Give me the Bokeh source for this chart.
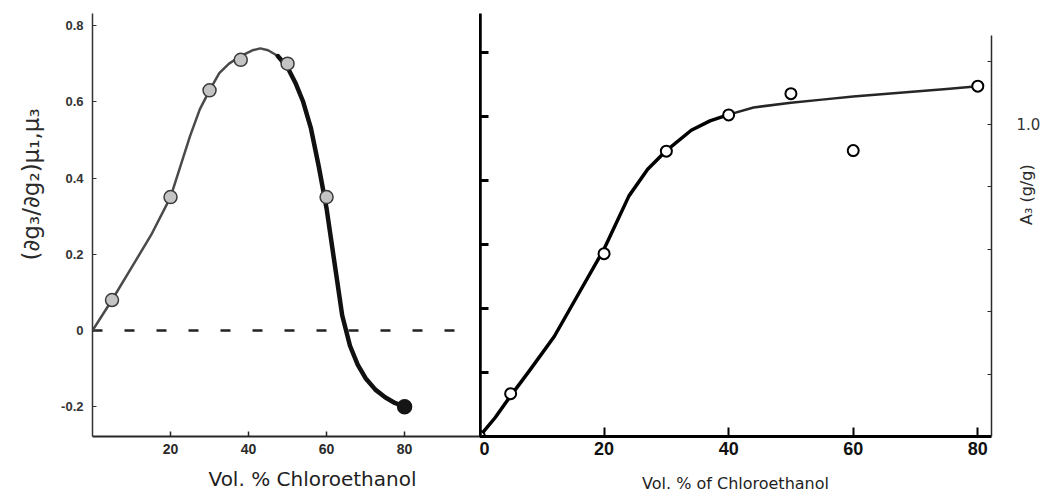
from math import pi

from bokeh.plotting import figure
from bokeh.layouts import row
from bokeh.models import Range1d, LinearAxis, FixedTicker, Title
from bokeh.embed import file_html
from bokeh.resources import INLINE

# ---- Left panel: preferential interaction parameter vs. vol. % chloroethanol ----
left_vol = [5, 20, 30, 38, 50, 60]
left_param = [0.08, 0.35, 0.63, 0.71, 0.70, 0.35]
left_end_vol = [80]
left_end_param = [-0.20]

# smooth curve drawn through the points (rising and falling branches)
left_rise_vol = [0, 2.5, 5, 10, 15, 20, 22.5, 25, 27.5, 30, 32.5, 35, 38, 41, 43, 45, 47.5]
left_rise_param = [0.0, 0.04, 0.08, 0.165, 0.25, 0.35, 0.43, 0.51, 0.58, 0.63, 0.675, 0.70,
                   0.72, 0.735, 0.74, 0.735, 0.72]
left_fall_vol = [47.5, 50, 52, 54, 56, 58, 60, 62, 64, 66, 68, 70, 72.5, 75, 77.5, 80]
left_fall_param = [0.72, 0.69, 0.65, 0.60, 0.53, 0.43, 0.32, 0.18, 0.04, -0.04, -0.09,
                   -0.125, -0.155, -0.175, -0.19, -0.20]

zero_line_vol = [0, 96]
zero_line_param = [0, 0]

left_x_ticks = [20, 40, 60, 80]
left_y_ticks = [-0.2, 0, 0.2, 0.4, 0.6, 0.8]
left_y_labels = ["-0.2", "0", "0.2", "0.4", "0.6", "0.8"]

# ---- Right panel: A3 vs. vol. % of chloroethanol ----
right_vol = [0, 5, 20, 30, 40, 50, 60, 80]
right_a3 = [0.0, 0.137, 0.585, 0.913, 1.029, 1.097, 0.915, 1.121]

right_rise_vol = [0, 2.5, 5, 8, 12, 16, 20, 24, 27, 30, 34, 37, 40]
right_rise_a3 = [0.0, 0.06, 0.13, 0.21, 0.32, 0.46, 0.60, 0.77, 0.855, 0.915, 0.98, 1.01, 1.03]
right_flat_vol = [40, 44, 50, 55, 60, 65, 70, 75, 80]
right_flat_a3 = [1.03, 1.053, 1.068, 1.078, 1.088, 1.096, 1.104, 1.112, 1.121]

right_x_ticks = [0, 20, 40, 60, 80]
right_inner_ticks = [1, 2, 3, 4, 5, 6]
right_y_label_ticks = [1.0]
right_y_minor_ticks = [0.2, 0.4, 0.6, 0.8, 1.2]

TICK_FONT = "Liberation Sans"
TITLE_FONT = "DejaVu Sans"

# ================= left figure =================
p1 = figure(width=479, height=499, output_backend="svg", toolbar_location=None,
            x_range=Range1d(0, 99.2), y_range=Range1d(-0.278, 0.8315),
            min_border_left=92, min_border_right=0, min_border_top=13, min_border_bottom=63)
p1.background_fill_color = "white"
p1.border_fill_color = "white"
p1.outline_line_color = None
p1.grid.visible = False

xa = p1.xaxis[0]
xa.ticker = FixedTicker(ticks=left_x_ticks)
xa.axis_line_color = "#262626"
xa.axis_line_width = 2
xa.major_tick_in = 5
xa.major_tick_out = 0
xa.major_tick_line_color = "#262626"
xa.major_tick_line_width = 1.5
xa.minor_tick_line_color = None
xa.major_label_text_font = TICK_FONT
xa.major_label_text_font_style = "bold"
xa.major_label_text_font_size = "14px"
xa.major_label_text_color = "#2a2a2a"
xa.major_label_standoff = 7

ya = p1.yaxis[0]
ya.ticker = FixedTicker(ticks=left_y_ticks)
ya.major_label_overrides = {t: s for t, s in zip(left_y_ticks, left_y_labels)}
ya.axis_line_color = "#333333"
ya.axis_line_width = 1.5
ya.major_tick_in = 4
ya.major_tick_out = 0
ya.major_tick_line_color = "#333333"
ya.minor_tick_line_color = None
ya.major_label_text_font = TICK_FONT
ya.major_label_text_font_style = "bold"
ya.major_label_text_font_size = "13px"
ya.major_label_text_color = "#333333"
ya.major_label_standoff = 9

p1.line(zero_line_vol, zero_line_param, line_color="#222222", line_width=2.5, line_dash="10 22")
p1.line(left_rise_vol, left_rise_param, line_color="#4a4a4a", line_width=2.5,
        line_join="round", line_cap="round")
p1.line(left_fall_vol, left_fall_param, line_color="#111111", line_width=4.5,
        line_join="round", line_cap="round")
p1.scatter(left_vol, left_param, marker="circle", size=13, fill_color="#c4c4c4",
           line_color="#3a3a3a", line_width=1.5)
p1.scatter(left_end_vol, left_end_param, marker="circle", size=14, fill_color="#151515",
           line_color="#151515", line_width=1.5)

p1.add_layout(Title(text="(∂g₃/∂g₂)μ₁,μ₃", align="left", offset=176, standoff=30,
                    text_font=TITLE_FONT, text_font_size="23px", text_font_style="normal",
                    text_color="#2a2a2a"), "left")
p1.add_layout(Title(text="Vol. % Chloroethanol", align="left", offset=116, standoff=16,
                    text_font=TITLE_FONT, text_font_size="20px", text_font_style="normal",
                    text_color="#1e1e1e"), "below")

# ================= right figure =================
p2 = figure(width=569, height=499, output_backend="svg", toolbar_location=None,
            x_range=Range1d(0, 82.2), y_range=Range1d(0, 1.3536),
            y_axis_location="right",
            min_border_left=0, min_border_right=56, min_border_top=13, min_border_bottom=63)
p2.background_fill_color = "white"
p2.border_fill_color = "white"
p2.outline_line_color = None
p2.grid.visible = False
p2.extra_y_ranges = {"inner": Range1d(0, 6.609)}

bx = p2.xaxis[0]
bx.ticker = FixedTicker(ticks=right_x_ticks)
bx.axis_line_color = "black"
bx.axis_line_width = 3
bx.major_tick_in = 9
bx.major_tick_out = 0
bx.major_tick_line_color = "black"
bx.major_tick_line_width = 2
bx.minor_tick_line_color = None
bx.major_label_text_font = TICK_FONT
bx.major_label_text_font_style = "bold"
bx.major_label_text_font_size = "18px"
bx.major_label_text_color = "#111111"
bx.major_label_standoff = 5
bx.axis_label = "Vol. % of Chloroethanol"
bx.axis_label_standoff = 16
bx.axis_label_text_font = TITLE_FONT
bx.axis_label_text_font_size = "16px"
bx.axis_label_text_font_style = "normal"
bx.axis_label_text_color = "#1e1e1e"

ry = p2.yaxis[0]
ry.ticker = FixedTicker(ticks=right_y_label_ticks, minor_ticks=right_y_minor_ticks)
ry.major_label_overrides = {1.0: "1.0"}
ry.bounds = (0, 1.283)
ry.axis_line_color = "#2a2a2a"
ry.axis_line_width = 1.5
ry.major_tick_in = 4
ry.major_tick_out = 0
ry.minor_tick_in = 4
ry.minor_tick_out = 0
ry.major_tick_line_color = "#2a2a2a"
ry.minor_tick_line_color = "#2a2a2a"
ry.major_label_text_font = TITLE_FONT
ry.major_label_text_font_size = "15px"
ry.major_label_text_color = "#333333"
ry.major_label_standoff = 25
ry.axis_label = "A₃ (g/g)"
ry.axis_label_standoff = -17
ry.axis_label_orientation = pi / 2
ry.axis_label_text_font = TITLE_FONT
ry.axis_label_text_font_size = "16px"
ry.axis_label_text_font_style = "normal"
ry.axis_label_text_color = "#2a2a2a"

ly = LinearAxis(y_range_name="inner",
                ticker=FixedTicker(ticks=[], minor_ticks=right_inner_ticks),
                axis_line_color="black", axis_line_width=4.5,
                major_tick_in=0, major_tick_out=0,
                minor_tick_in=9, minor_tick_out=0, minor_tick_line_width=3,
                minor_tick_line_color="black", major_label_standoff=0)
p2.add_layout(ly, "left")

p2.line(right_rise_vol, right_rise_a3, line_color="black", line_width=3.5,
        line_join="round", line_cap="round")
p2.line(right_flat_vol, right_flat_a3, line_color="#262626", line_width=2.5,
        line_join="round", line_cap="round")
p2.scatter(right_vol, right_a3, marker="circle", size=11, fill_color="white",
           line_color="black", line_width=2)

layout = row(p1, p2)
open("out.html", "w").write(file_html(layout, INLINE))
